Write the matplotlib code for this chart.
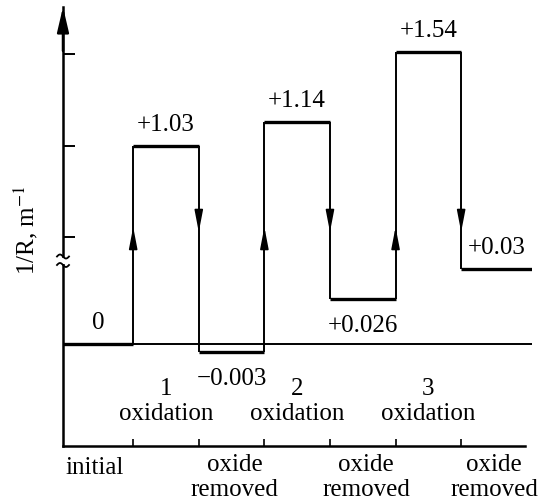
import numpy as np
import matplotlib
matplotlib.use('Agg')
from matplotlib import pyplot as plt
from matplotlib.patches import Rectangle

plt.rcParams['font.family'] = ['Liberation Serif', 'DejaVu Serif']
plt.rcParams['mathtext.fontset'] = 'stix'

# stage boundaries along x (first = y axis, last = right end of the chart)
edges = [-0.07, 1, 2, 3, 4, 5, 6, 7.08]
# drawn height of each stage (schematic, the axis is broken)
levels = [0, 1.98, -0.08, 2.22, 0.45, 2.92, 0.75]
value_labels = ['0', '+1.03', '\u22120.003', '+1.14', '+0.026', '+1.54', '+0.03']
label_above = [True, True, False, True, False, True, True]
y_ticks = [1.07, 1.98, 2.90]
x_ticks = [1, 2, 3, 4, 5, 6]
oxidation_steps = ['1', '2', '3']
oxidation_pos = [1.5, 3.5, 5.5]
removed_pos = [2.55, 4.55, 6.5]

FS = 18

fig = plt.figure(figsize=(5.45, 5.02), dpi=100)
ax = fig.add_axes([63 / 545, 55 / 502, 469 / 545, 439 / 502])
ax.set_xlim(edges[0], edges[-1])
ax.set_ylim(-1.02, 3.37)

# axes look
for s in ['top', 'right']:
    ax.spines[s].set_visible(False)
ax.spines['left'].set_linewidth(1.8)
ax.spines['bottom'].set_linewidth(1.8)
ax.spines['bottom'].set_bounds(edges[0], 6.98)
ax.set_yticks(y_ticks)
ax.set_xticks(x_ticks)
ax.tick_params(axis='y', direction='in', length=8.5, width=1.4, labelleft=False)
ax.tick_params(axis='x', direction='in', length=5, width=1.2, labelbottom=False)

# arrow on top of y axis
ax.annotate('', xy=(0, 1.0), xytext=(0, 0.9), xycoords='axes fraction',
            arrowprops=dict(arrowstyle='-|>,head_length=1.5,head_width=0.35',
                            color='k', lw=1.8, shrinkA=0, shrinkB=0))

# axis break: white gap + two small squiggles
ax.add_patch(Rectangle((-0.012, 0.80), 0.024, 0.06, transform=ax.get_yaxis_transform(),
                       facecolor='white', edgecolor='none', clip_on=False, zorder=4))
t = np.linspace(-1, 1, 30)
for yc in [0.875, 0.79]:
    ax.plot(edges[0] + t * 6 / 65.6, yc - 0.02 * np.sin(np.pi * t), color='k', lw=1.3,
            clip_on=False, zorder=5)

# baseline
ax.axhline(0, color='k', lw=1.4)

# stages
ax.hlines(levels, edges[:-1], edges[1:], color='k', lw=2.4)
ax.vlines(edges[1:-1], levels[:-1], levels[1:], color='k', lw=1.4)

# direction arrows on the vertical jumps
for i in range(1, len(levels)):
    x = edges[i]
    if levels[i] > levels[i - 1]:
        tip, tail = 1.17, 1.0
    else:
        tip, tail = 1.12, 1.29
    ax.annotate('', xy=(x, tip), xytext=(x, tail),
                arrowprops=dict(arrowstyle='-|>,head_length=1.3,head_width=0.25',
                                color='k', lw=1.2, shrinkA=0, shrinkB=0))

# value labels
for i, lab in enumerate(value_labels):
    xc = (edges[i] + edges[i + 1]) / 2
    if label_above[i]:
        ax.annotate(lab, xy=(xc, levels[i]), xytext=(0, 11.5), textcoords='offset points',
                    ha='center', va='baseline', fontsize=FS)
    else:
        ax.annotate(lab, xy=(xc, levels[i]), xytext=(0, -23), textcoords='offset points',
                    ha='center', va='baseline', fontsize=FS)

# stage names
for num, xp in zip(oxidation_steps, oxidation_pos):
    ax.text(xp, -0.44, num, ha='center', va='center', fontsize=FS)
    ax.text(xp, -0.69, 'oxidation', ha='center', va='center', fontsize=FS)
for xp in removed_pos:
    ax.text(xp, -1.20, 'oxide', ha='center', va='center', fontsize=FS)
    ax.text(xp, -1.45, 'removed', ha='center', va='center', fontsize=FS)
ax.text(edges[0] + 0.04, -1.23, 'initial', ha='left', va='center', fontsize=FS)

fig.text(26 / 545, 1 - 230 / 502, '1/R, m$^{-1}$', rotation=90, ha='center', va='center',
         fontsize=FS)

fig.savefig('out.png', dpi=100)
